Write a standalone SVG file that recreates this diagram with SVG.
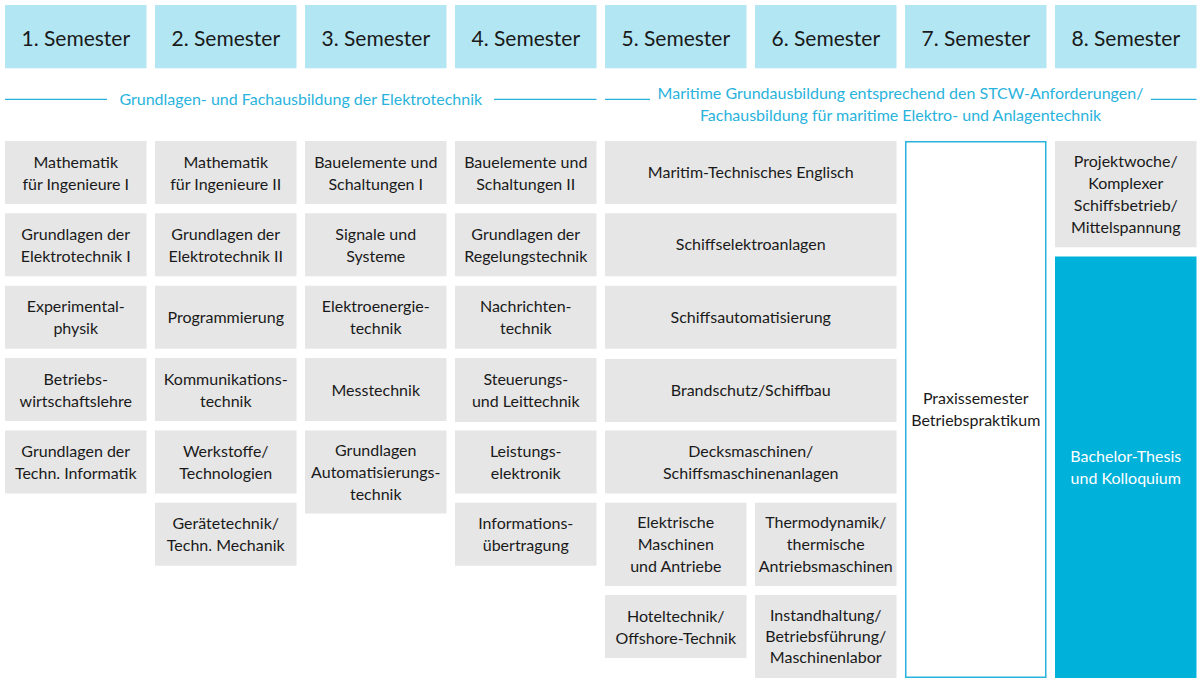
<svg xmlns="http://www.w3.org/2000/svg" width="1200" height="683" viewBox="0 0 1200 683">
<style>
.hd{fill:#b2e6f3}
.bx{fill:#e6e6e6}
.ht{font-family:Lato,"Open Sans",sans-serif;font-size:21px;fill:#1a1a1a;text-anchor:middle}
.t{font-family:Lato,"Open Sans",sans-serif;font-size:16px;fill:#1a1a1a;text-anchor:middle}
.bt{font-family:Lato,"Open Sans",sans-serif;font-size:16px;fill:#29b3dc;text-anchor:middle}
.wt{font-family:Lato,"Open Sans",sans-serif;font-size:16px;fill:#ffffff;text-anchor:middle}
.ln{stroke:#29b3dc;stroke-width:1.3;fill:none}
</style>
<rect width="1200" height="683" fill="#ffffff"/>
<g id="headers">
<g id="h1"><rect class="hd" x="5" y="5" width="141.5" height="63.3"/><text class="ht" x="75.75" y="45.5">1. Semester</text></g>
<g id="h2"><rect class="hd" x="155" y="5" width="141.5" height="63.3"/><text class="ht" x="225.75" y="45.5">2. Semester</text></g>
<g id="h3"><rect class="hd" x="305" y="5" width="141.5" height="63.3"/><text class="ht" x="375.75" y="45.5">3. Semester</text></g>
<g id="h4"><rect class="hd" x="455" y="5" width="141.5" height="63.3"/><text class="ht" x="525.75" y="45.5">4. Semester</text></g>
<g id="h5"><rect class="hd" x="605" y="5" width="141.5" height="63.3"/><text class="ht" x="675.75" y="45.5">5. Semester</text></g>
<g id="h6"><rect class="hd" x="755" y="5" width="141.5" height="63.3"/><text class="ht" x="825.75" y="45.5">6. Semester</text></g>
<g id="h7"><rect class="hd" x="905" y="5" width="141.5" height="63.3"/><text class="ht" x="975.75" y="45.5">7. Semester</text></g>
<g id="h8"><rect class="hd" x="1055" y="5" width="141.5" height="63.3"/><text class="ht" x="1125.75" y="45.5">8. Semester</text></g>
</g>
<g id="connectors">
<line class="ln" x1="5" y1="99.3" x2="107" y2="99.3"/>
<line class="ln" x1="494" y1="99.3" x2="596.5" y2="99.3"/>
<line class="ln" x1="605" y1="99.3" x2="650" y2="99.3"/>
<line class="ln" x1="1151" y1="99.3" x2="1196.5" y2="99.3"/>
</g>
<g id="section-labels">
<text class="bt" x="300.75" y="104.8">Grundlagen- und Fachausbildung der Elektrotechnik</text>
<text class="bt" x="900.5" y="99.3">Maritime Grundausbildung entsprechend den STCW-Anforderungen/</text>
<text class="bt" x="900.5" y="121">Fachausbildung für maritime Elektro- und Anlagentechnik</text>
</g>
<g id="sem1">
<g id="s1a"><rect class="bx" x="5" y="141" width="141.5" height="63"/><text class="t" x="75.75" y="167.5">Mathematik</text><text class="t" x="75.75" y="189.5">für Ingenieure I</text></g>
<g id="s1b"><rect class="bx" x="5" y="213.3" width="141.5" height="63"/><text class="t" x="75.75" y="239.8">Grundlagen der</text><text class="t" x="75.75" y="261.8">Elektrotechnik I</text></g>
<g id="s1c"><rect class="bx" x="5" y="285.7" width="141.5" height="63"/><text class="t" x="75.75" y="312.2">Experimental-</text><text class="t" x="75.75" y="334.2">physik</text></g>
<g id="s1d"><rect class="bx" x="5" y="358" width="141.5" height="63"/><text class="t" x="75.75" y="384.5">Betriebs-</text><text class="t" x="75.75" y="406.5">wirtschaftslehre</text></g>
<g id="s1e"><rect class="bx" x="5" y="430.5" width="141.5" height="63"/><text class="t" x="75.75" y="457">Grundlagen der</text><text class="t" x="75.75" y="479">Techn. Informatik</text></g>
</g>
<g id="sem2">
<g id="s2a"><rect class="bx" x="155" y="141" width="141.5" height="63"/><text class="t" x="225.75" y="167.5">Mathematik</text><text class="t" x="225.75" y="189.5">für Ingenieure II</text></g>
<g id="s2b"><rect class="bx" x="155" y="213.3" width="141.5" height="63"/><text class="t" x="225.75" y="239.8">Grundlagen der</text><text class="t" x="225.75" y="261.8">Elektrotechnik II</text></g>
<g id="s2c"><rect class="bx" x="155" y="285.7" width="141.5" height="63"/><text class="t" x="225.75" y="323">Programmierung</text></g>
<g id="s2d"><rect class="bx" x="155" y="358" width="141.5" height="63"/><text class="t" x="225.75" y="384.5">Kommunikations-</text><text class="t" x="225.75" y="406.5">technik</text></g>
<g id="s2e"><rect class="bx" x="155" y="430.5" width="141.5" height="63"/><text class="t" x="225.75" y="457">Werkstoffe/</text><text class="t" x="225.75" y="479">Technologien</text></g>
<g id="s2f"><rect class="bx" x="155" y="502.7" width="141.5" height="63"/><text class="t" x="225.75" y="529.2">Gerätetechnik/</text><text class="t" x="225.75" y="551.2">Techn. Mechanik</text></g>
</g>
<g id="sem3">
<g id="s3a"><rect class="bx" x="305" y="141" width="141.5" height="63"/><text class="t" x="375.75" y="167.5">Bauelemente und</text><text class="t" x="375.75" y="189.5">Schaltungen I</text></g>
<g id="s3b"><rect class="bx" x="305" y="213.3" width="141.5" height="63"/><text class="t" x="375.75" y="239.8">Signale und</text><text class="t" x="375.75" y="261.8">Systeme</text></g>
<g id="s3c"><rect class="bx" x="305" y="285.7" width="141.5" height="63"/><text class="t" x="375.75" y="312.2">Elektroenergie-</text><text class="t" x="375.75" y="334.2">technik</text></g>
<g id="s3d"><rect class="bx" x="305" y="358" width="141.5" height="63"/><text class="t" x="375.75" y="395.5">Messtechnik</text></g>
<g id="s3e"><rect class="bx" x="305" y="430.5" width="141.5" height="83"/><text class="t" x="375.75" y="456">Grundlagen</text><text class="t" x="375.75" y="478">Automatisierungs-</text><text class="t" x="375.75" y="500">technik</text></g>
</g>
<g id="sem4">
<g id="s4a"><rect class="bx" x="455" y="141" width="141.5" height="63"/><text class="t" x="525.75" y="167.5">Bauelemente und</text><text class="t" x="525.75" y="189.5">Schaltungen II</text></g>
<g id="s4b"><rect class="bx" x="455" y="213.3" width="141.5" height="63"/><text class="t" x="525.75" y="239.8">Grundlagen der</text><text class="t" x="525.75" y="261.8">Regelungstechnik</text></g>
<g id="s4c"><rect class="bx" x="455" y="285.7" width="141.5" height="63"/><text class="t" x="525.75" y="312.2">Nachrichten-</text><text class="t" x="525.75" y="334.2">technik</text></g>
<g id="s4d"><rect class="bx" x="455" y="358" width="141.5" height="64"/><text class="t" x="525.75" y="385">Steuerungs-</text><text class="t" x="525.75" y="407">und Leittechnik</text></g>
<g id="s4e"><rect class="bx" x="455" y="430.5" width="141.5" height="63"/><text class="t" x="525.75" y="457">Leistungs-</text><text class="t" x="525.75" y="479">elektronik</text></g>
<g id="s4f"><rect class="bx" x="455" y="502.7" width="141.5" height="63"/><text class="t" x="525.75" y="529.2">Informations-</text><text class="t" x="525.75" y="551.2">übertragung</text></g>
</g>
<g id="sem56">
<g id="s5a"><rect class="bx" x="605" y="141" width="291.5" height="63"/><text class="t" x="750.75" y="178">Maritim-Technisches Englisch</text></g>
<g id="s5b"><rect class="bx" x="605" y="213.3" width="291.5" height="63"/><text class="t" x="750.75" y="250.3">Schiffselektroanlagen</text></g>
<g id="s5c"><rect class="bx" x="605" y="285.7" width="291.5" height="63"/><text class="t" x="750.75" y="322.7">Schiffsautomatisierung</text></g>
<g id="s5d"><rect class="bx" x="605" y="359" width="291.5" height="63"/><text class="t" x="750.75" y="396">Brandschutz/Schiffbau</text></g>
<g id="s5e"><rect class="bx" x="605" y="430.5" width="291.5" height="63"/><text class="t" x="750.75" y="457">Decksmaschinen/</text><text class="t" x="750.75" y="479">Schiffsmaschinenanlagen</text></g>
<g id="s5f"><rect class="bx" x="605" y="502.7" width="141.5" height="83.3"/><text class="t" x="675.75" y="528.3">Elektrische</text><text class="t" x="675.75" y="550.3">Maschinen</text><text class="t" x="675.75" y="572.3">und Antriebe</text></g>
<g id="s6f"><rect class="bx" x="755" y="502.7" width="141.5" height="83.3"/><text class="t" x="825.75" y="528.3">Thermodynamik/</text><text class="t" x="825.75" y="550.3">thermische</text><text class="t" x="825.75" y="572.3">Antriebsmaschinen</text></g>
<g id="s5g"><rect class="bx" x="605" y="595" width="141.5" height="63"/><text class="t" x="675.75" y="621.5">Hoteltechnik/</text><text class="t" x="675.75" y="643.5">Offshore-Technik</text></g>
<g id="s6g"><rect class="bx" x="755" y="595" width="141.5" height="83"/><text class="t" x="825.75" y="621">Instandhaltung/</text><text class="t" x="825.75" y="642">Betriebsführung/</text><text class="t" x="825.75" y="663">Maschinenlabor</text></g>
</g>
<g id="sem7">
<rect x="905.75" y="141.75" width="140" height="535.5" fill="#ffffff" stroke="#29b3dc" stroke-width="1.5"/>
<text class="t" x="975.75" y="404">Praxissemester</text><text class="t" x="975.75" y="426">Betriebspraktikum</text>
</g>
<g id="sem8">
<g id="s8a"><rect class="bx" x="1055" y="141" width="141.5" height="106.3"/><text class="t" x="1125.75" y="166.5">Projektwoche/</text><text class="t" x="1125.75" y="188.5">Komplexer</text><text class="t" x="1125.75" y="210.5">Schiffsbetrieb/</text><text class="t" x="1125.75" y="232.5">Mittelspannung</text></g>
<g id="s8b"><rect x="1055" y="256.5" width="141.5" height="421.5" fill="#00b1da"/><text class="wt" x="1125.75" y="461.5">Bachelor-Thesis</text><text class="wt" x="1125.75" y="483.5">und Kolloquium</text></g>
</g>
</svg>
